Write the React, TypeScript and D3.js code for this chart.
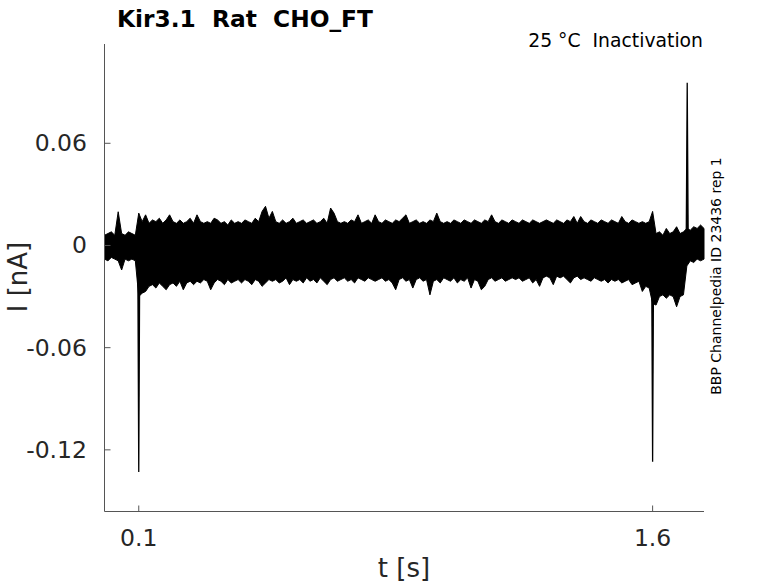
import React, { useEffect } from "react";
import * as d3 from "d3";

// time samples: 0.00 .. 1.75 s in 0.01 s steps
const timeStep = 0.01;
const upperEnvelope = [
  0.006, 0.007, 0.008, 0.006, 0.0198, 0.007, 0.006, 0.008, 0.007, 0.006,
  0.019, 0.014, 0.018, 0.013, 0.015, 0.014, 0.016, 0.013, 0.015, 0.018,
  0.014, 0.013, 0.015, 0.013, 0.014, 0.016, 0.013, 0.018, 0.014, 0.013,
  0.014, 0.013, 0.016, 0.015, 0.013, 0.014, 0.012, 0.015, 0.013, 0.014,
  0.013, 0.015, 0.014, 0.013, 0.016, 0.014, 0.020, 0.023, 0.016, 0.020,
  0.014, 0.013, 0.015, 0.013, 0.014, 0.016, 0.013, 0.014, 0.015, 0.013,
  0.014, 0.015, 0.013, 0.014, 0.016, 0.013, 0.022, 0.019, 0.014, 0.013,
  0.014, 0.013, 0.015, 0.014, 0.018, 0.013, 0.014, 0.015, 0.013, 0.018,
  0.014, 0.013, 0.015, 0.014, 0.013, 0.015, 0.014, 0.016, 0.018, 0.013,
  0.014, 0.015, 0.013, 0.014, 0.013, 0.015, 0.014, 0.019, 0.014, 0.013,
  0.014, 0.013, 0.015, 0.014, 0.013, 0.015, 0.014, 0.013, 0.015, 0.014,
  0.013, 0.015, 0.014, 0.018, 0.014, 0.013, 0.015, 0.014, 0.013, 0.015,
  0.014, 0.013, 0.015, 0.014, 0.013, 0.015, 0.014, 0.013, 0.014, 0.015,
  0.014, 0.013, 0.015, 0.014, 0.013, 0.015, 0.014, 0.017, 0.013, 0.017,
  0.014, 0.013, 0.015, 0.014, 0.013, 0.015, 0.014, 0.013, 0.015, 0.014,
  0.013, 0.017, 0.014, 0.013, 0.015, 0.014, 0.013, 0.014, 0.013, 0.014,
  0.020, 0.007, 0.008, 0.006, 0.010, 0.007, 0.008, 0.011, 0.007, 0.008,
  0.010, 0.009, 0.011, 0.010, 0.012, 0.010,
];
const lowerEnvelope = [
  -0.008, -0.009, -0.007, -0.008, -0.009, -0.0144, -0.008, -0.009, -0.008, -0.009,
  -0.030, -0.028, -0.027, -0.024, -0.023, -0.025, -0.022, -0.024, -0.026, -0.023,
  -0.022, -0.024, -0.021, -0.026, -0.022, -0.021, -0.023, -0.021, -0.022, -0.020,
  -0.021, -0.026, -0.022, -0.020, -0.021, -0.023, -0.020, -0.022, -0.021, -0.020,
  -0.022, -0.020, -0.021, -0.023, -0.020, -0.021, -0.024, -0.022, -0.020, -0.021,
  -0.020, -0.022, -0.021, -0.019, -0.023, -0.020, -0.021, -0.020, -0.022, -0.019,
  -0.021, -0.020, -0.022, -0.019, -0.021, -0.023, -0.020, -0.019, -0.021, -0.020,
  -0.019, -0.021, -0.020, -0.022, -0.019, -0.020, -0.021, -0.019, -0.020, -0.021,
  -0.020, -0.019, -0.021, -0.020, -0.022, -0.026, -0.020, -0.019, -0.021, -0.020,
  -0.025, -0.020, -0.019, -0.021, -0.020, -0.029, -0.021, -0.020, -0.022, -0.019,
  -0.020, -0.021, -0.019, -0.022, -0.020, -0.021, -0.019, -0.025, -0.020, -0.021,
  -0.026, -0.024, -0.020, -0.019, -0.021, -0.020, -0.019, -0.021, -0.020, -0.019,
  -0.020, -0.019, -0.021, -0.020, -0.019, -0.022, -0.020, -0.024, -0.019, -0.018,
  -0.019, -0.023, -0.018, -0.019, -0.018, -0.020, -0.022, -0.019, -0.018, -0.020,
  -0.019, -0.020, -0.021, -0.019, -0.020, -0.021, -0.020, -0.022, -0.020, -0.021,
  -0.020, -0.022, -0.021, -0.020, -0.023, -0.022, -0.021, -0.027, -0.024, -0.025,
  -0.034, -0.035, -0.030, -0.029, -0.031, -0.029, -0.030, -0.036, -0.030, -0.029,
  -0.012, -0.009, -0.010, -0.008, -0.009, -0.008,
];

// capacitive transients
const spikeTimes = [0.1, 1.6, 1.701];
const spikePeaks = [-0.133, -0.127, 0.0956];

const xTicks = [0.1, 1.6];
const yTicks = [0.06, 0, -0.06, -0.12];

const title = "Kir3.1  Rat  CHO_FT";
const subtitle = "25 °C  Inactivation";
const sideNote = "BBP Channelpedia ID 23436 rep 1";
const xLabel = "t [s]";
const yLabel = "I [nA]";

export default function App() {
  useEffect(() => {
    document.body.style.margin = "0";
  }, []);

  const W = 778;
  const H = 583;
  const left = 104.5;
  const right = 704;
  const top = 44;
  const bottom = 511.5;

  const x = d3.scaleLinear().domain([0, 1.75]).range([left, right]);
  const y = d3.scaleLinear().domain([-0.1562, 0.1183]).range([bottom, top]);

  const band = upperEnvelope.map((u, i) => ({
    t: i * timeStep,
    hi: u,
    lo: lowerEnvelope[i],
  }));
  const areaPath =
    d3
      .area<{ t: number; hi: number; lo: number }>()
      .x((d) => x(d.t))
      .y0((d) => y(d.lo))
      .y1((d) => y(d.hi))(band) || "";

  const spikeShapes = spikeTimes.map((t, i) => {
    const pts: [number, number][] = [
      [t - 0.003, 0],
      [t, spikePeaks[i]],
      [t + 0.003, 0],
    ];
    return (
      d3
        .line<[number, number]>()
        .x((d) => x(d[0]))
        .y((d) => y(d[1]))(pts) || ""
    );
  });

  const font = "'DejaVu Sans', sans-serif";
  const axisColor = "#555";

  return (
    <svg
      width={W}
      height={H}
      style={{ position: "absolute", left: 0, top: 0, background: "#fff" }}
      fontFamily={font}
    >
      <rect width={W} height={H} fill="#fff" />
      {/* data */}
      <path d={areaPath} fill="#000" stroke="#000" strokeWidth={1} strokeLinejoin="miter" />
      {spikeShapes.map((d, i) => (
        <path key={i} d={d} fill="#000" stroke="#000" strokeWidth={1.3} />
      ))}

      {/* axes */}
      <line x1={left} x2={left} y1={top} y2={bottom} stroke={axisColor} strokeWidth={1} />
      <line x1={left} x2={right} y1={bottom} y2={bottom} stroke={axisColor} strokeWidth={1} />
      {yTicks.map((v) => (
        <g key={v}>
          <line x1={left} x2={left + 6} y1={y(v)} y2={y(v)} stroke={axisColor} />
          <text
            x={left - 17.5}
            y={y(v)}
            textAnchor="end"
            dominantBaseline="central"
            fontSize={23.5}
            fill="#262626"
          >
            {v === 0 ? "0" : String(v)}
          </text>
        </g>
      ))}
      {xTicks.map((v) => (
        <g key={v}>
          <line x1={x(v)} x2={x(v)} y1={bottom} y2={bottom - 6} stroke={axisColor} />
          <text x={x(v)} y={bottom + 34} textAnchor="middle" fontSize={23.5} fill="#262626">
            {String(v)}
          </text>
        </g>
      ))}

      {/* labels */}
      <text x={404} y={577} textAnchor="middle" fontSize={26} fill="#262626">
        {xLabel}
      </text>
      <text
        transform={`translate(27, ${277}) rotate(-90)`}
        textAnchor="middle"
        fontSize={26}
        fill="#262626"
      >
        {yLabel}
      </text>
      <text x={117} y={27} fontSize={23.3} fontWeight="bold" fill="#000" style={{ whiteSpace: "pre" }}>
        {title}
      </text>
      <text x={703} y={47} textAnchor="end" fontSize={18.8} fill="#000" style={{ whiteSpace: "pre" }}>
        {subtitle}
      </text>
      <text
        transform={`translate(721, 276) rotate(-90)`}
        textAnchor="middle"
        fontSize={14}
        fill="#000"
      >
        {sideNote}
      </text>
    </svg>
  );
}
